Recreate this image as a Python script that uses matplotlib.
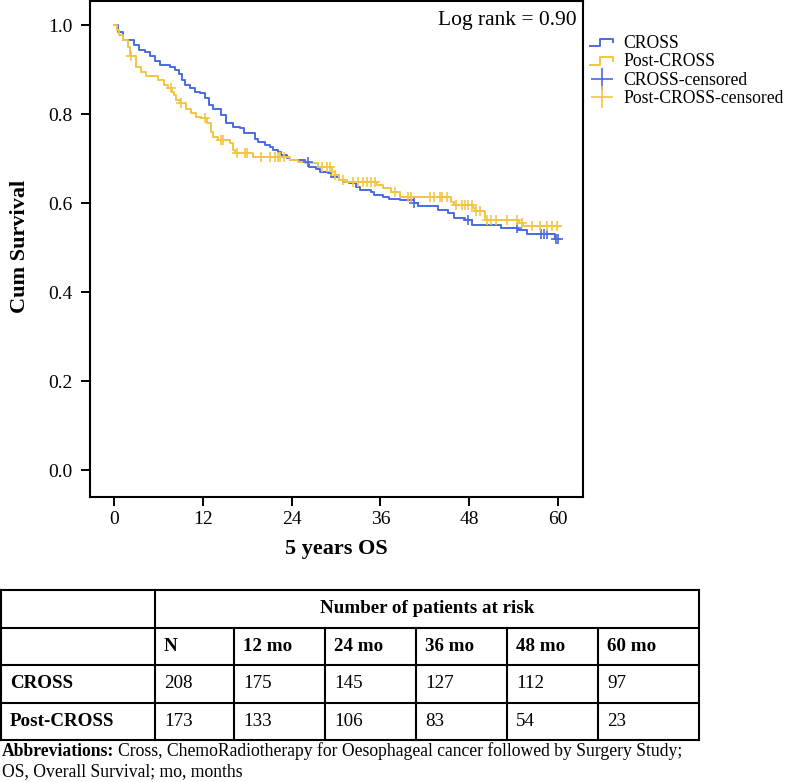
import numpy as np
import matplotlib
matplotlib.use('Agg')
import matplotlib.pyplot as plt
from matplotlib.lines import Line2D
from matplotlib.legend_handler import HandlerBase

plt.rcParams['font.family'] = ['Liberation Serif', 'DejaVu Serif']

# Kaplan-Meier steps (months, cumulative survival)
cross_t = [0, 0.5, 1.2, 2.7, 3.3, 4.2, 4.8, 5.5, 6.2, 7.5, 8.2, 8.7, 9.1, 9.5, 10.3,
           10.9, 11.6, 12.3, 12.8, 13.4, 14.5, 15.1, 16.0, 17.0, 17.6, 19.0, 19.4,
           20.4, 21.0, 21.5, 22.1, 22.6, 23.3, 23.8, 25.8, 26.4, 27.3, 27.8, 28.9,
           29.3, 30.4, 31.0, 31.8, 32.7, 33.2, 34.8, 35.1, 36.3, 37.2, 38.6, 40.5,
           41.1, 43.8, 45.2, 45.9, 47.4, 48.4, 52.3, 54.6, 55.8, 59.6]
cross_s = [1.0, 0.985, 0.967, 0.956, 0.945, 0.94, 0.932, 0.92, 0.91, 0.906, 0.9, 0.89,
           0.877, 0.866, 0.858, 0.85, 0.847, 0.836, 0.822, 0.813, 0.798, 0.78, 0.772,
           0.769, 0.757, 0.744, 0.738, 0.731, 0.727, 0.72, 0.716, 0.708, 0.701, 0.697,
           0.693, 0.682, 0.678, 0.671, 0.667, 0.66, 0.652, 0.648, 0.645, 0.637, 0.63,
           0.626, 0.619, 0.614, 0.61, 0.607, 0.6, 0.594, 0.585, 0.579, 0.568, 0.562,
           0.551, 0.545, 0.54, 0.532, 0.519]
cross_cens = [26.2, 40.5, 47.9, 54.5, 57.8, 58.2, 58.5, 59.8, 60.0]
cross_end = 60.2

post_t = [0, 0.3, 0.7, 1.2, 1.8, 2.1, 2.9, 3.6, 4.3, 5.9, 6.7, 7.2, 7.8, 8.1, 8.4, 8.9,
          9.7, 10.4, 11.0, 11.7, 12.6, 13.1, 13.4, 14.0, 15.6, 16.0, 16.3, 18.8, 23.8,
          24.9, 25.8, 27.5, 29.4, 29.8, 30.4, 31.2, 35.6, 36.3, 37.4, 38.6, 45.6, 45.9,
          48.5, 48.8, 50.1, 54.8, 55.3]
post_s = [1.0, 0.99, 0.978, 0.967, 0.952, 0.93, 0.907, 0.896, 0.886, 0.877, 0.866, 0.858,
          0.85, 0.843, 0.832, 0.825, 0.813, 0.802, 0.795, 0.791, 0.78, 0.761, 0.75, 0.742,
          0.735, 0.72, 0.712, 0.703, 0.697, 0.693, 0.69, 0.682, 0.671, 0.664, 0.652,
          0.648, 0.641, 0.634, 0.626, 0.615, 0.604, 0.596, 0.589, 0.583, 0.562, 0.555,
          0.549]
post_cens = [2.3, 7.7, 9.0, 12.3, 14.5, 14.7, 16.6, 17.7, 18.0, 19.9, 21.1, 21.7, 22.2,
             22.4, 22.9, 28.1, 28.8, 29.2, 29.8, 31.0, 32.3, 33.0, 33.7, 34.2, 34.8, 35.3,
             38.0, 39.8, 40.2, 42.7, 43.2, 44.1, 44.4, 45.0, 46.3, 47.0, 47.5, 47.9, 48.4,
             49.0, 49.5, 50.4, 51.0, 51.7, 53.1, 54.5, 55.1, 56.5, 57.6, 58.5, 59.2, 59.9]
post_end = 60.3

xticks = [0, 12, 24, 36, 48, 60]
yticks = [0.0, 0.2, 0.4, 0.6, 0.8, 1.0]
log_rank = 'Log rank = 0.90'

# at-risk table
table_title = 'Number of patients at risk'
table_cols = ['N', '12 mo', '24 mo', '36 mo', '48 mo', '60 mo']
table_rows = ['CROSS', 'Post-CROSS']
risk_cross = [208, 175, 145, 127, 112, 97]
risk_post = [173, 133, 106, 83, 54, 23]

blue = '#4a6be0'
yellow = '#f3c546'


def surv_at(times, surv, t):
    i = np.searchsorted(times, t, side='right') - 1
    return np.array(surv)[i]


class StepHandler(HandlerBase):
    def create_artists(self, legend, orig_handle, xdescent, ydescent, width, height,
                       fontsize, trans):
        lo = height * 0.15
        hi = height * 0.75
        xs = [0, width * 0.4, width * 0.4, width * 0.95, width * 0.95]
        ys = [lo, lo, hi, hi, hi - height * 0.3]
        ln = Line2D(xs, ys, color=orig_handle.get_color(), lw=1.4, transform=trans)
        return [ln]


W, H = 786, 782
fig = plt.figure(figsize=(W / 100, H / 100), dpi=100)
ax = fig.add_axes([90 / W, 1 - 497 / H, 493 / W, 496 / H])

ax.step(cross_t + [cross_end], cross_s + [cross_s[-1]], where='post', color=blue, lw=1.4)
ax.step(post_t + [post_end], post_s + [post_s[-1]], where='post', color=yellow, lw=1.4)
ax.plot(cross_cens, surv_at(cross_t, cross_s, cross_cens), ls='none', marker='+',
        ms=7.5, mew=1.2, color=blue)
ax.plot(post_cens, surv_at(post_t, post_s, post_cens), ls='none', marker='+',
        ms=7.5, mew=1.2, color=yellow)

ax.set_xlim(-3.29, 63.42)
ax.set_ylim(-0.06, 1.0546)
ax.set_xticks(xticks)
ax.set_yticks(yticks)
ax.set_yticklabels([f'{v:.1f}' for v in yticks])
ax.tick_params(direction='out', length=6.5, width=1.4, labelsize=14)
ax.tick_params(axis='y', pad=6)
ax.tick_params(axis='x', pad=3.5)
for sp in ax.spines.values():
    sp.set_linewidth(1.5)

ax.set_xlabel('5 years OS', fontsize=16, fontweight='bold', va='center')
ax.xaxis.set_label_coords(0.5, -0.105)
ax.set_ylabel('Cum Survival', fontsize=16, fontweight='bold', va='center')
ax.yaxis.set_label_coords(-0.142, 0.506)

ax.text(0.988, 0.96, log_rank, transform=ax.transAxes, ha='right', va='center',
        fontsize=15.5)

h1 = Line2D([], [], color=blue)
h2 = Line2D([], [], color=yellow)
h3 = Line2D([], [], color=blue, ls='none', marker='+', ms=16, mew=1.2)
h4 = Line2D([], [], color=yellow, ls='none', marker='+', ms=16, mew=1.2)
fig.legend([h1, h2, h3, h4],
           ['CROSS', 'Post-CROSS', 'CROSS-censored', 'Post-CROSS-censored'],
           handler_map={h1: StepHandler(), h2: StepHandler()},
           loc='upper left', bbox_to_anchor=(590 / W, 1 - 35 / H), frameon=False,
           fontsize=12.7, borderpad=0, borderaxespad=0, handlelength=1.35,
           handletextpad=0.55, labelspacing=0.08)

# table drawn in pixel coordinates on an overlay axes
tab = fig.add_axes([0, 0, 1, 1])
tab.set_xlim(0, W)
tab.set_ylim(H, 0)
tab.axis('off')

col_x = [1, 155, 234, 325, 416, 507, 598, 699]
row_y = [590, 627.5, 665, 702.5, 740]
lw_t = 1.5
for y in row_y:
    tab.plot([col_x[0], col_x[-1]], [y, y], color='black', lw=lw_t)
tab.plot([col_x[0], col_x[0]], [row_y[0], row_y[-1]], color='black', lw=lw_t)
tab.plot([col_x[1], col_x[1]], [row_y[0], row_y[-1]], color='black', lw=lw_t)
tab.plot([col_x[-1], col_x[-1]], [row_y[0], row_y[-1]], color='black', lw=lw_t)
for x in col_x[2:-1]:
    tab.plot([x, x], [row_y[1], row_y[-1]], color='black', lw=lw_t)

fs_t = 13.7
pad = 9
mid = [(row_y[i] + row_y[i + 1]) / 2 for i in range(4)]
tab.text((col_x[1] + col_x[-1]) / 2, mid[0], table_title, ha='center', va='center',
         fontsize=fs_t, fontweight='bold')
for j, c in enumerate(table_cols):
    tab.text(col_x[j + 1] + pad, mid[1], c, ha='left', va='center', fontsize=fs_t,
             fontweight='bold')
for i, (name, vals) in enumerate(zip(table_rows, [risk_cross, risk_post])):
    tab.text(col_x[0] + pad, mid[2 + i], name, ha='left', va='center', fontsize=fs_t,
             fontweight='bold')
    for j, v in enumerate(vals):
        tab.text(col_x[j + 1] + pad, mid[2 + i], str(v), ha='left', va='center',
                 fontsize=fs_t)

fs_a = 12.7
t1 = tab.text(2, 751, 'Abbreviations:', ha='left', va='center', fontsize=fs_a,
              fontweight='bold')
fig.canvas.draw()
bb = t1.get_window_extent()
x_after = bb.x1 + 4
tab.text(x_after, 751, 'Cross, ChemoRadiotherapy for Oesophageal cancer followed by '
         'Surgery Study;', ha='left', va='center', fontsize=fs_a)
tab.text(2, 772, 'OS, Overall Survival; mo, months', ha='left', va='center', fontsize=fs_a)

fig.savefig('out.png', dpi=100)
